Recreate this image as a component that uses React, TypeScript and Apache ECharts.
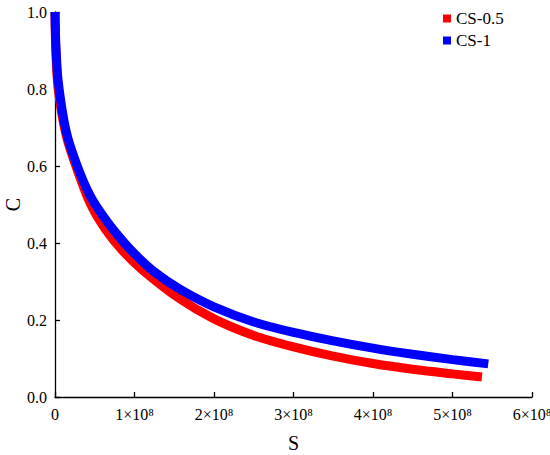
import React, { useEffect, useRef } from "react";
import * as echarts from "echarts";

// S in units of 1e8, C dimensionless
const redS = [0, 0.01, 0.04, 0.14, 0.28, 0.45, 0.64, 0.85, 1.1, 1.57, 2.0, 2.5, 3.0, 3.5, 4.0, 4.5, 5.0, 5.37];
const redC = [1.0, 0.9, 0.8, 0.68, 0.59, 0.5, 0.434, 0.38, 0.33, 0.255, 0.203, 0.16, 0.13, 0.106, 0.087, 0.072, 0.06, 0.052];
const blueS = [0, 0.01, 0.04, 0.14, 0.28, 0.45, 0.64, 0.82, 1.0, 1.25, 1.57, 2.0, 2.5, 3.0, 3.5, 4.0, 4.5, 5.0, 5.45];
const blueC = [1.0, 0.92, 0.82, 0.69, 0.6, 0.52, 0.46, 0.413, 0.372, 0.325, 0.28, 0.234, 0.195, 0.168, 0.146, 0.127, 0.111, 0.097, 0.086];
const seriesNames = ["CS-0.5", "CS-1"];
const seriesColors = ["#ff0000", "#0000ff"];
const xTickLabels = ["0", "1×10⁸", "2×10⁸", "3×10⁸", "4×10⁸", "5×10⁸", "6×10⁸"];
const yTickLabels = ["0.0", "0.2", "0.4", "0.6", "0.8", "1.0"];

const FONT = "serif";

function pairs(xs: number[], ys: number[]) {
  return xs.map((x, i) => [x * 1e8, ys[i]]);
}

export default function App() {
  const ref = useRef<HTMLDivElement>(null);
  useEffect(() => {
    if (!ref.current) return;
    const chart = echarts.init(ref.current, null, { renderer: "svg" });
    chart.setOption({
      animation: false,
      grid: { left: 55, right: 18, top: 12, bottom: 58, outerBoundsMode: "none" },
      legend: {
        orient: "vertical",
        left: 438,
        top: 5,
        icon: "rect",
        itemWidth: 8,
        itemHeight: 8,
        itemGap: 5,
        data: seriesNames,
        textStyle: { fontFamily: FONT, fontSize: 17, color: "#000" },
      },
      xAxis: {
        type: "value",
        min: 0,
        max: 6e8,
        interval: 1e8,
        name: "S",
        nameLocation: "middle",
        nameGap: 36,
        nameMoveOverlap: false,
        nameTextStyle: { fontFamily: FONT, fontSize: 20, color: "#000" },
        splitLine: { show: false },
        axisLine: { show: true, lineStyle: { color: "#000", width: 1.3 } },
        axisTick: { show: true, inside: true, length: 5, lineStyle: { color: "#000", width: 1.3 } },
        axisLabel: {
          margin: 9,
          color: "#000",
          fontFamily: FONT,
          fontSize: 16,
          formatter: (v: number) => xTickLabels[Math.round(v / 1e8)] ?? "",
        },
      },
      yAxis: {
        type: "value",
        min: 0,
        max: 1,
        interval: 0.2,
        name: "C",
        nameLocation: "middle",
        nameGap: 32,
        nameMoveOverlap: false,
        nameTextStyle: { fontFamily: FONT, fontSize: 20, color: "#000" },
        splitLine: { show: false },
        axisLine: { show: true, lineStyle: { color: "#000", width: 1.3 } },
        axisTick: { show: true, inside: true, length: 5, lineStyle: { color: "#000", width: 1.3 } },
        axisLabel: {
          margin: 8,
          color: "#000",
          fontFamily: FONT,
          fontSize: 16,
          formatter: (v: number) => yTickLabels[Math.round(v / 0.2)] ?? "",
        },
      },
      series: [
        {
          name: seriesNames[0],
          type: "line",
          data: pairs(redS, redC),
          smooth: 0.3,
          showSymbol: false,
          itemStyle: { color: seriesColors[0] },
          lineStyle: { color: seriesColors[0], width: 9 },
          z: 2,
        },
        {
          name: seriesNames[1],
          type: "line",
          data: pairs(blueS, blueC),
          smooth: 0.3,
          showSymbol: false,
          itemStyle: { color: seriesColors[1] },
          lineStyle: { color: seriesColors[1], width: 9 },
          z: 3,
        },
      ],
    });
    return () => chart.dispose();
  }, []);
  return (
    <div
      ref={ref}
      style={{ position: "fixed", left: 0, top: 0, width: 550, height: 455, background: "#fff" }}
    />
  );
}
